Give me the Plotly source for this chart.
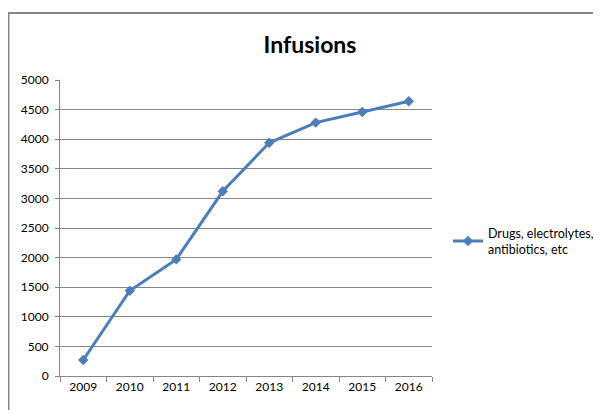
import plotly.graph_objects as go

years = ["2009", "2010", "2011", "2012", "2013", "2014", "2015", "2016"]
values = [270, 1440, 1970, 3120, 3940, 4280, 4460, 4640]
series_name = "Drugs, electrolytes,<br>antibiotics, etc"
title_text = "Infusions"

blue = "#4a7ebb"
grid = "#868686"
font_family = "Lato, Liberation Sans, sans-serif"

fig = go.Figure()
fig.add_trace(go.Scatter(
    x=years, y=values, mode="lines+markers", name=series_name,
    line=dict(color=blue, width=3),
    marker=dict(symbol="diamond", size=8, color=blue),
))

# page offset (body margin) compensation: figure fits exactly inside the window
OFF = 8
L, R, T, B = 60, 432, 79.5, 376   # plot area in window pixels
W, H = 601 - OFF, 410 - OFF
pw = R - L
ph = B - T

def px_x(px):
    return (px - L) / pw

def px_y(py):
    return (B - py) / ph

fig.update_layout(
    width=W, height=H,
    margin=dict(l=L - OFF, r=W - (R - OFF), t=T - OFF, b=H - (B - OFF), pad=0,
                autoexpand=False),
    paper_bgcolor="white", plot_bgcolor="white",
    font=dict(family=font_family, size=12, color="#000000"),
    title=dict(text="<b>" + title_text + "</b>", x=(310 - OFF) / W, xanchor="center",
               y=1 - (45 - OFF) / H, yanchor="middle",
               font=dict(size=23, family=font_family, color="#000000")),
    showlegend=True,
    legend=dict(x=px_x(448), y=px_y(241), xanchor="left", yanchor="middle",
                font=dict(size=12.5, family=font_family), itemwidth=30,
                bgcolor="rgba(0,0,0,0)", tracegroupgap=0),
    xaxis=dict(type="category", range=[-0.5, 7.5], showgrid=False,
               showline=True, linecolor=grid, linewidth=1,
               ticks="outside", ticklen=5, tickcolor=grid, tickson="boundaries",
               tickfont=dict(size=12), fixedrange=True),
    yaxis=dict(range=[0, 5000], dtick=500, showgrid=True, gridcolor=grid,
               gridwidth=1, showline=True, linecolor=grid, linewidth=1,
               ticks="outside", ticklen=4, tickcolor=grid, zeroline=False,
               tickfont=dict(size=12), ticklabelstandoff=4, fixedrange=True),
    shapes=[
        dict(type="rect", xref="paper", yref="paper",
             x0=px_x(8.5), x1=px_x(640), y0=px_y(430), y1=px_y(12.5),
             line=dict(color=grid, width=2), fillcolor="rgba(0,0,0,0)",
             layer="below"),
    ],
)

fig.write_html("out.html")
